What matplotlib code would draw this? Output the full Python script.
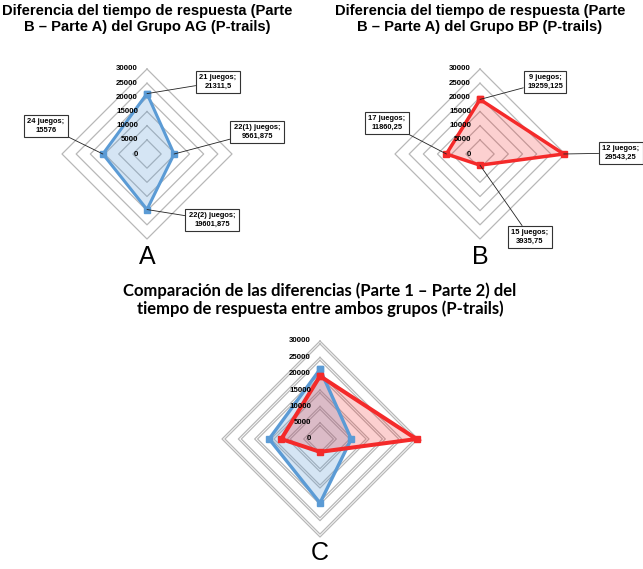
import numpy as np
import matplotlib
matplotlib.use("Agg")
import matplotlib.pyplot as plt

# ---------------- data ----------------
ticks = [0, 5000, 10000, 15000, 20000, 25000, 30000]
rmax = 30000

cats_A = ["21 juegos", "22(1) juegos", "22(2) juegos", "24 juegos"]
vals_A = [21311.5, 9561.875, 19601.875, 15576]

cats_B = ["9 juegos", "12 juegos", "15 juegos", "17 juegos"]
vals_B = [19259.125, 29543.25, 3935.75, 11860.25]

title_A = "Diferencia del tiempo de respuesta (Parte\nB \u2013 Parte A) del Grupo AG (P-trails)"
title_B = "Diferencia del tiempo de respuesta (Parte\nB \u2013 Parte A) del Grupo BP (P-trails)"
title_C = "Comparaci\u00f3n de las diferencias (Parte 1 \u2013 Parte 2) del\ntiempo de respuesta entre ambos grupos (P-trails)"

# label box centres (figure pixels from top-left) - layout only
boxpos_A = [(218, 82), (257, 132), (212, 220), (46, 126)]
boxpos_B = [(545, 82), (621, 153), (530, 237), (387, 123)]

BLUE = "#5B9BD5"
RED = "#F42A2A"
GRID = "#b8b8b8"

W, H = 643, 569
fig = plt.figure(figsize=(W / 100, H / 100), dpi=100)
fig.patch.set_facecolor("white")


def fmt(v):
    s = ("%f" % v).rstrip("0").rstrip(".")
    return s.replace(".", ",")


def radar_axes(cx, cy, R):
    ax = fig.add_axes([(cx - R) / W, 1 - (cy + R) / H, 2 * R / W, 2 * R / H],
                      projection="polar")
    ax.set_theta_zero_location("N")
    ax.set_theta_direction(-1)
    ax.set_ylim(0, rmax)
    ax.axis("off")
    return ax


def draw_grid(ax, n, doubled=False):
    th = np.linspace(0, 2 * np.pi, n + 1)
    for t in ticks[1:]:
        ax.plot(th, [t] * (n + 1), color=GRID, lw=0.9, zorder=1, clip_on=False)
        if doubled:
            ax.plot(th, [t - 900] * (n + 1), color=GRID, lw=0.9, zorder=1, clip_on=False)
    for t in ticks:
        ax.annotate(str(t), xy=(0, t), xytext=(-9, 0), textcoords="offset pixels",
                    ha="right", va="center", fontsize=5.7, fontweight="bold",
                    family="Liberation Sans", color="black", zorder=5,
                    annotation_clip=False)


def draw_series(ax, vals, color, lw, alpha):
    n = len(vals)
    th = np.arange(n + 1) * 2 * np.pi / n
    v = list(vals) + [vals[0]]
    ax.fill(th, v, color=color, alpha=alpha, lw=0, zorder=2, clip_on=False)
    ax.plot(th, v, color=color, lw=lw, zorder=3, clip_on=False,
            marker="s", markersize=4, solid_joinstyle="miter")


def draw_labels(ax, cats, vals, pos):
    n = len(vals)
    for i, (c, v) in enumerate(zip(cats, vals)):
        th = i * 2 * np.pi / n
        px, py = pos[i]
        ax.annotate(f"{c};\n{fmt(v)}", xy=(th, v), xytext=(px, H - py),
                    textcoords="figure pixels", ha="center", va="center",
                    fontsize=5.4, fontweight="bold", family="Liberation Sans",
                    linespacing=1.25, zorder=6, annotation_clip=False,
                    bbox=dict(boxstyle="square,pad=0.45", fc="white", ec="#333333", lw=0.8),
                    arrowprops=dict(arrowstyle="-", color="#222222", lw=0.6,
                                    shrinkA=0, shrinkB=0))


# ---- chart A ----
axA = radar_axes(147, 154, 85)
draw_grid(axA, len(vals_A))
draw_series(axA, vals_A, BLUE, 2.2, 0.25)
draw_labels(axA, cats_A, vals_A, boxpos_A)

# ---- chart B ----
axB = radar_axes(480, 154, 85)
draw_grid(axB, len(vals_B))
draw_series(axB, vals_B, RED, 2.5, 0.22)
draw_labels(axB, cats_B, vals_B, boxpos_B)

# ---- chart C ----
axC = radar_axes(320, 439, 98)
draw_grid(axC, len(vals_A), doubled=True)
draw_series(axC, vals_A, BLUE, 2.4, 0.25)
draw_series(axC, vals_B, RED, 2.9, 0.22)

# ---- titles and letters ----
def ftext(x, y, s, **kw):
    fig.text(x / W, 1 - y / H, s, **kw)

ftext(147, 19, title_A, ha="center", va="center", fontsize=10.6, fontweight="bold",
      family="Liberation Sans", linespacing=1.12)
ftext(480, 19, title_B, ha="center", va="center", fontsize=10.6, fontweight="bold",
      family="Liberation Sans", linespacing=1.12)
ftext(320, 300, title_C, ha="center", va="center", fontsize=12, fontweight="bold",
      family="Lato", linespacing=1.1)

ftext(147, 257, "A", ha="center", va="center", fontsize=18, family="Liberation Sans")
ftext(480, 257, "B", ha="center", va="center", fontsize=18, family="Liberation Sans")
ftext(320, 553, "C", ha="center", va="center", fontsize=18, family="Liberation Sans")

fig.savefig("out.png", dpi=100, facecolor="white")
